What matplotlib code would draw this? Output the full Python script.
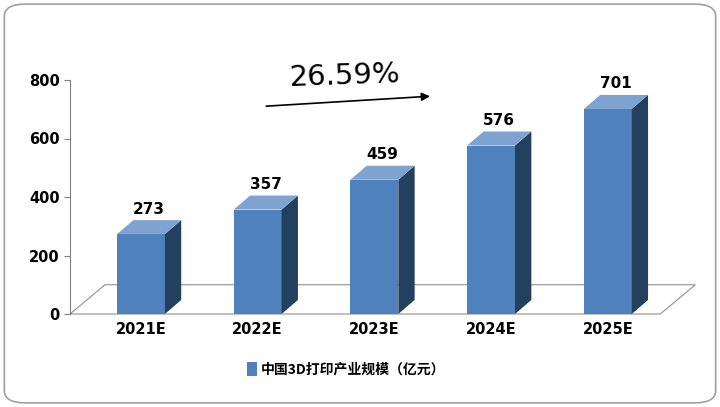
import matplotlib
matplotlib.use("Agg")
import matplotlib.pyplot as plt
from matplotlib.patches import Polygon, FancyBboxPatch

plt.rcParams['font.family'] = ['Noto Sans CJK SC', 'DejaVu Sans']

categories = ["2021E", "2022E", "2023E", "2024E", "2025E"]
values = [273, 357, 459, 576, 701]
series_name = "中国3D打印产业规模（亿元）"
growth_label = "26.59%"

front_c = "#4F81BD"
side_c = "#24405F"
top_c = "#7EA3D0"

fig = plt.figure(figsize=(7.2, 4.07), dpi=100)
fig.patches.append(FancyBboxPatch((0.006, 0.01), 0.988, 0.98, boxstyle="round,pad=0,rounding_size=0.03",
                                  transform=fig.transFigure, fill=False, ec="#A0A0A0", lw=1.2))
ax = fig.add_axes([70/720, 1-314/407, 630/720, 234/407])
ax.set_xlim(-0.608, 4.79)
ax.set_ylim(0, 800)
for s in ["top", "right", "bottom"]:
    ax.spines[s].set_visible(False)
ax.spines["left"].set_color("#808080")

w = 0.41
dx, dy = 0.14, 48
# floor
ax.add_patch(Polygon([(-0.608, 0), (4.45, 0), (4.75, 100), (-0.308, 100)],
                     closed=True, fill=False, ec="#909090", lw=0.8, clip_on=False))
for i, v in enumerate(values):
    x0, x1 = i - w/2, i + w/2
    ax.add_patch(Polygon([(x0, 0), (x1, 0), (x1, v), (x0, v)], closed=True, fc=front_c, ec="none", zorder=3))
    ax.add_patch(Polygon([(x1, 0), (x1+dx, dy), (x1+dx, v+dy), (x1, v)], closed=True, fc=side_c, ec="none", zorder=3))
    ax.add_patch(Polygon([(x0, v), (x1, v), (x1+dx, v+dy), (x0+dx, v+dy)], closed=True, fc=top_c, ec="none", zorder=3, clip_on=False))
    ax.text(i + dx/2, v + dy + 12, str(v), ha="center", va="bottom", fontsize=11, fontweight="bold",
            family=["DejaVu Sans"], clip_on=False)

ax.set_xticks(range(len(categories)))
ax.set_xticklabels(categories, fontsize=10.5, fontweight="bold", family=["DejaVu Sans"])
ax.tick_params(axis="x", length=0, pad=6)
ax.set_yticks([0, 200, 400, 600, 800])
ax.tick_params(axis="y", labelsize=10.5, colors="#808080", labelcolor="black", direction="out", length=4)
for t in ax.get_yticklabels():
    t.set_fontweight("bold")
    t.set_family(["DejaVu Sans"])

ax.annotate("", xy=(2.5, 745), xytext=(1.05, 710),
            arrowprops=dict(arrowstyle="-|>", color="black", lw=1.2, mutation_scale=12))
ax.text(1.75, 760, growth_label, ha="center", va="bottom", fontsize=21, family=["DejaVu Sans"], rotation=2)

fig.patches.append(Polygon([(0.343, 0.075), (0.357, 0.075), (0.357, 0.11), (0.343, 0.11)], closed=True,
                           transform=fig.transFigure, fc=front_c))
fig.text(0.362, 0.092, series_name, ha="left", va="center", fontsize=10, fontweight="bold")

fig.savefig("out.png", dpi=100)
